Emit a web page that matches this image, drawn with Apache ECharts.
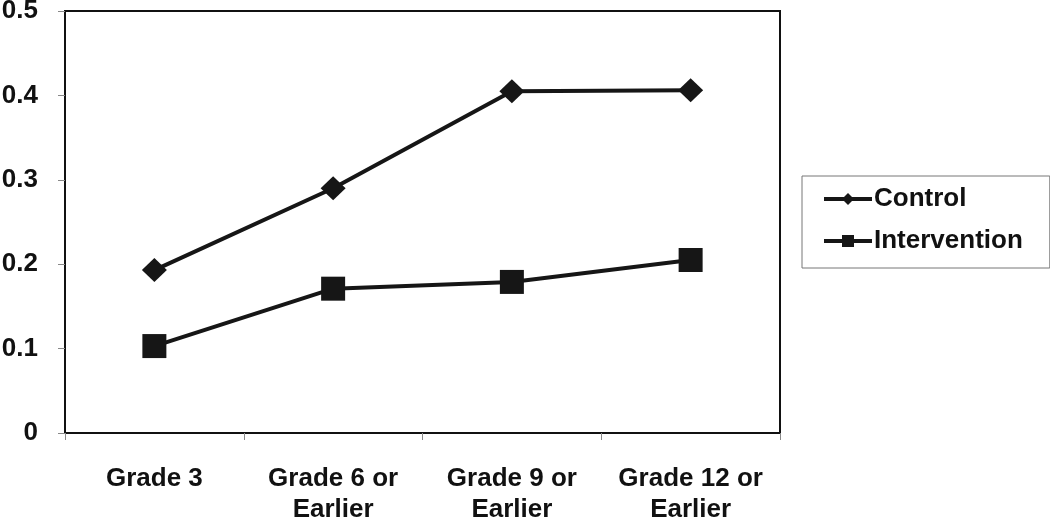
<!DOCTYPE html>
<html>
<head>
<meta charset="utf-8">
<script src="https://cdn.jsdelivr.net/npm/echarts@6/dist/echarts.min.js"></script>
<style>html,body{margin:0;padding:0;background:#fff}#c{width:1050px;height:520px}</style>
</head>
<body>
<div id="c"></div>
<script>
var categories = ['Grade 3', 'Grade 6 or\nEarlier', 'Grade 9 or\nEarlier', 'Grade 12 or\nEarlier'];
var controlValues = [0.193, 0.290, 0.405, 0.406];
var interventionValues = [0.103, 0.171, 0.179, 0.205];
var yTicks = [0, 0.1, 0.2, 0.3, 0.4, 0.5];

var chart = echarts.init(document.getElementById('c'));
var fontFam = '"Liberation Sans", Arial, sans-serif';
chart.setOption({
  animation: false,
  backgroundColor: '#fff',
  grid: { left: 65, right: 270, top: 11, bottom: 87, show: true, borderColor: '#111', borderWidth: 2, backgroundColor: 'transparent', containLabel: false, outerBoundsMode: 'none' },
  legend: {
    orient: 'vertical', left: 802, top: 176,
    padding: [10, 27, 14, 20],
    itemGap: 16, itemWidth: 48, itemHeight: 15,
    borderColor: '#777', borderWidth: 1,
    lineStyle: { width: 4, color: '#161616' },
    textStyle: { fontFamily: fontFam, fontWeight: 'bold', fontSize: 26, color: '#111', padding: [0,0,0,-3] },
    data: ['Control', 'Intervention']
  },
  xAxis: {
    type: 'category', data: categories, boundaryGap: true,
    axisLine: { lineStyle: { color: '#111', width: 2 } },
    axisTick: { show: true, length: 7, lineStyle: { color: '#888', width: 1 } },
    axisLabel: { interval: 0, hideOverlap: false, fontFamily: fontFam, fontWeight: 'bold', fontSize: 26, color: '#111', lineHeight: 31, margin: 30 }
  },
  yAxis: {
    type: 'value', min: yTicks[0], max: yTicks[yTicks.length-1], interval: 0.1,
    splitLine: { show: false },
    axisLine: { show: true, lineStyle: { color: '#111', width: 2 } },
    axisTick: { show: true, length: 7, lineStyle: { color: '#888', width: 1 } },
    axisLabel: { fontFamily: fontFam, fontWeight: 'bold', fontSize: 26, color: '#111', margin: 27,
      formatter: function (v) { return v === 0 ? '0' : v.toFixed(1); } }
  },
  series: [
    { name: 'Control', type: 'line', data: controlValues, symbol: 'diamond', symbolSize: [25, 24],
      lineStyle: { color: '#161616', width: 4 }, itemStyle: { color: '#161616' } },
    { name: 'Intervention', type: 'line', data: interventionValues, symbol: 'rect', symbolSize: 24,
      lineStyle: { color: '#161616', width: 4 }, itemStyle: { color: '#161616' } }
  ]
});
</script>
</body>
</html>
